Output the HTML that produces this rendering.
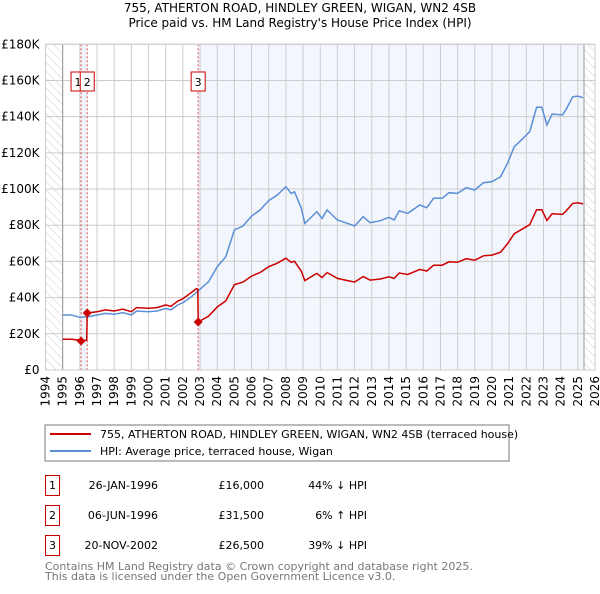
<!DOCTYPE html>
<html><head><meta charset="utf-8">
<style>
body{margin:0;background:#fff;width:600px;height:590px;overflow:hidden;font-family:"DejaVu Sans","Liberation Sans",sans-serif;}
svg text{font-family:"DejaVu Sans","Liberation Sans",sans-serif;}
</style></head>
<body>
<svg id="chart" width="600" height="590" xmlns="http://www.w3.org/2000/svg">
<defs>
<pattern id="hatch" width="6" height="6" patternUnits="userSpaceOnUse" patternTransform="rotate(-45)">
<line x1="0" y1="0" x2="0" y2="6" stroke="#ccc" stroke-width="1"/>
</pattern>
</defs>
<text x="300" y="12" text-anchor="middle" font-size="12" fill="#000">755, ATHERTON ROAD, HINDLEY GREEN, WIGAN, WN2 4SB</text>
<text x="300" y="27" text-anchor="middle" font-size="12" fill="#000">Price paid vs. HM Land Registry's House Price Index (HPI)</text>
<g id="plot"></g>
<rect x="45" y="425" width="464" height="36" fill="#fff" stroke="#777"/>
<line x1="50" y1="434" x2="91" y2="434" stroke="#cc0000" stroke-width="2"/>
<text x="100" y="438" font-size="11">755, ATHERTON ROAD, HINDLEY GREEN, WIGAN, WN2 4SB (terraced house)</text>
<line x1="50" y1="451" x2="91" y2="451" stroke="#5b8fd6" stroke-width="2"/>
<text x="100" y="455" font-size="11">HPI: Average price, terraced house, Wigan</text>
<g font-size="11">
<rect x="45.5" y="475.5" width="14" height="20" fill="none" stroke="#cc0000"/>
<text x="52.5" y="489" text-anchor="middle">1</text>
<text x="158" y="489" text-anchor="end">26-JAN-1996</text>
<text x="264" y="489" text-anchor="end">£16,000</text>
<text x="367" y="489" text-anchor="end">44% ↓ HPI</text>
<rect x="45.5" y="505.5" width="14" height="20" fill="none" stroke="#cc0000"/>
<text x="52.5" y="519" text-anchor="middle">2</text>
<text x="158" y="519" text-anchor="end">06-JUN-1996</text>
<text x="264" y="519" text-anchor="end">£31,500</text>
<text x="367" y="519" text-anchor="end">6% ↑ HPI</text>
<rect x="45.5" y="535.5" width="14" height="20" fill="none" stroke="#cc0000"/>
<text x="52.5" y="549" text-anchor="middle">3</text>
<text x="158" y="549" text-anchor="end">20-NOV-2002</text>
<text x="264" y="549" text-anchor="end">£26,500</text>
<text x="367" y="549" text-anchor="end">39% ↓ HPI</text>
</g>
<text x="45" y="570" font-size="11" fill="#777">Contains HM Land Registry data © Crown copyright and database right 2025.</text>
<text x="45" y="580" font-size="11" fill="#777">This data is licensed under the Open Government Licence v3.0.</text>
</svg>
<script>
const yTicks=[0,20,40,60,80,100,120,140,160,180];
const yLabels=["£0","£20K","£40K","£60K","£80K","£100K","£120K","£140K","£160K","£180K"];
const xYears=[1994,1995,1996,1997,1998,1999,2000,2001,2002,2003,2004,2005,2006,2007,2008,2009,2010,2011,2012,2013,2014,2015,2016,2017,2018,2019,2020,2021,2022,2023,2024,2025,2026];
const hpiX=[1995,1995.5,1996,1996.5,1997,1997.5,1998,1998.5,1999,1999.3,2000,2000.5,2001,2001.3,2001.7,2002,2002.5,2003,2003.5,2004,2004.5,2005,2005.5,2006,2006.5,2007,2007.5,2008,2008.3,2008.5,2008.9,2009.1,2009.8,2010.1,2010.4,2011,2011.6,2012,2012.5,2012.9,2013.5,2014,2014.3,2014.6,2015.1,2015.8,2016.2,2016.6,2017.1,2017.5,2018,2018.5,2019,2019.5,2020,2020.5,2020.9,2021.3,2021.8,2022.2,2022.6,2022.9,2023.2,2023.5,2024.1,2024.3,2024.7,2025,2025.3];
const hpiY=[30.4,30.4,29.1,29.5,30.4,31.3,30.8,31.7,30.4,32.6,32.2,32.6,34,33.2,35.9,37.2,40.5,44.6,48.8,57.1,62.6,77.4,79.6,85.1,88.4,93.6,96.7,101.3,97.6,98.5,89.3,81,87.5,83.8,88.4,82.9,81,79.6,84.7,81.4,82.5,84.4,82.9,87.9,86.6,91.2,89.7,94.9,94.9,98,97.6,100.8,99.5,103.5,104.1,106.8,114.2,123.4,128,131.7,145.2,145.2,135.4,141.5,140.9,143.7,151,151.4,150.5];
const redX=[1995,1995.5,1996,1996.07,1996.4,1996.43,1997,1997.5,1998,1998.5,1999,1999.3,2000,2000.5,2001,2001.3,2001.7,2002,2002.5,2002.8,2002.87,2002.89,2003.5,2004,2004.5,2005,2005.5,2006,2006.5,2007,2007.5,2008,2008.3,2008.5,2008.9,2009.1,2009.8,2010.1,2010.4,2011,2011.6,2012,2012.5,2012.9,2013.5,2014,2014.3,2014.6,2015.1,2015.8,2016.2,2016.6,2017.1,2017.5,2018,2018.5,2019,2019.5,2020,2020.5,2020.9,2021.3,2021.8,2022.2,2022.6,2022.9,2023.2,2023.5,2024.1,2024.3,2024.7,2025,2025.3];
const redY=[17,17,16.5,16,16.5,31.5,32.2,33.2,32.6,33.6,32.2,34.5,34.1,34.5,36,35.2,38,39.4,42.9,45,44.5,26.5,29.8,34.8,38.2,47.2,48.6,51.9,53.9,57.1,59,61.8,59.5,60.1,54.5,49.4,53.4,51.1,53.9,50.6,49.4,48.6,51.7,49.7,50.3,51.5,50.6,53.6,52.8,55.6,54.7,57.9,57.9,59.8,59.5,61.5,60.7,63.1,63.5,65.1,69.7,75.3,78.1,80.3,88.6,88.6,82.6,86.3,86,87.7,92.1,92.4,91.8];
const saleX=[1996.07,1996.43,2002.89];
const saleY=[16,31.5,26.5];
const saleLabels=["1","2","3"];

const NS="http://www.w3.org/2000/svg";
const L=45.5,R=595,T=44.3,B=370;
const xs=y=>L+(y-1994)/32*(R-L);
const ys=v=>B-v/180*(B-T);
const g=document.getElementById('plot');
function mk(t,a){const e=document.createElementNS(NS,t);for(const k in a)e.setAttribute(k,a[k]);g.appendChild(e);return e;}
// hatched regions
let e=mk('rect',{x:L,y:T,width:xs(1995)-L,height:B-T,fill:'url(#hatch)'});


e=mk('rect',{x:xs(2025.36),y:T,width:R-xs(2025.36),height:B-T,fill:'url(#hatch)'});


// shaded ownership regions
e=mk('rect',{x:xs(saleX[0]),y:T,width:xs(saleX[1])-xs(saleX[0]),height:B-T,fill:'#eef3fb'});


e=mk('rect',{x:xs(saleX[2]),y:T,width:xs(2025.36)-xs(saleX[2]),height:B-T,fill:'#f3f6fd'});


// grid
yTicks.forEach((v,i)=>{
 const l=mk('line',{x1:L,x2:R,y1:ys(v),y2:ys(v),stroke:'#ccc','stroke-width':1});
 
 
 const t=mk('text',{x:L-6,y:ys(v)+4,'text-anchor':'end','font-size':12});
 t.textContent=yLabels[i];
 
 
});
xYears.forEach(yr=>{
 const l=mk('line',{x1:xs(yr),x2:xs(yr),y1:T,y2:B,stroke:'#ccc','stroke-width':1});
 
 
 const t=mk('text',{x:0,y:0,'text-anchor':'end','font-size':12,transform:`translate(${xs(yr)+4},${B+6}) rotate(-90)`});
 t.textContent=yr;
 
 
});
e=mk('line',{x1:xs(1995),x2:xs(1995),y1:T,y2:B,stroke:'#999'});


e=mk('line',{x1:xs(2025.36),x2:xs(2025.36),y1:T,y2:B,stroke:'#999'});


// sale vlines
saleX.forEach((s,i)=>{
 const l=mk('line',{x1:xs(s),x2:xs(s),y1:T,y2:B,stroke:'#e05050','stroke-dasharray':'2,2','stroke-width':1});
 
 
});
// lines
function path(X,Y){return X.map((x,i)=>(i?'L':'M')+xs(x).toFixed(1)+','+ys(Y[i]).toFixed(1)).join('');}
e=mk('path',{d:path(hpiX,hpiY),fill:'none',stroke:'#5b8fd6','stroke-width':1.5});


e=mk('path',{d:path(redX,redY),fill:'none',stroke:'#cc0000','stroke-width':1.5});


saleX.forEach((s,i)=>{
 const cx=xs(s),cy=ys(saleY[i]);
 const d=mk('polygon',{points:`${cx},${cy-4.5} ${cx+4.5},${cy} ${cx},${cy+4.5} ${cx-4.5},${cy}`,fill:'#cc0000'});
 
 
 const bx=i===0?cx-10:(i===1?cx-7:cx-7);
 const r=mk('rect',{x:bx,y:72,width:14,height:19,fill:'#fff',stroke:'#cc0000'});
 
 
 const t=mk('text',{x:bx+7,y:86,'text-anchor':'middle','font-size':11});
 t.textContent=saleLabels[i];
 
 
});
e=mk('rect',{x:L,y:T,width:R-L,height:B-T,fill:'none',stroke:'#ccc'});


</script>
</body></html>
